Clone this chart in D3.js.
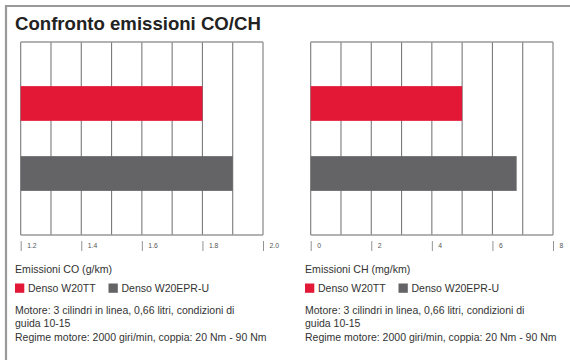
<!DOCTYPE html>
<html><head><meta charset="utf-8">
<script src="https://cdn.jsdelivr.net/npm/d3@7"></script>
<style>
html,body{margin:0;padding:0;background:#fff;}
svg{display:block;font-family:"Liberation Sans",Arial,Helvetica,sans-serif;}
</style></head>
<body>
<svg id="c" width="570" height="360"></svg>
<script>
const title = "Confronto emissioni CO/CH";
const series = ["Denso W20TT", "Denso W20EPR-U"];
const colors = ["#e31837", "#646466"];
const coValues = [1.8, 1.9];
const chValues = [5.0, 6.8];
const coTicks = [1.2, 1.4, 1.6, 1.8, 2.0];
const coTickLabels = ["1.2", "1.4", "1.6", "1.8", "2.0"];
const coGrid = [1.2, 1.3, 1.4, 1.5, 1.6, 1.7, 1.8, 1.9, 2.0];
const chTicks = [0, 2, 4, 6, 8];
const chTickLabels = ["0", "2", "4", "6", "8"];
const chGrid = [0, 1, 2, 3, 4, 5, 6, 7, 8];
const coTitle = "Emissioni CO (g/km)";
const chTitle = "Emissioni CH (mg/km)";
const notes = ["Motore: 3 cilindri in linea, 0,66 litri, condizioni di", "guida 10-15", "Regime motore: 2000 giri/min, coppia: 20 Nm - 90 Nm"];

const svg = d3.select("#c");
// outer frame (top and left)
svg.append("line").attr("x1",5).attr("x2",570).attr("y1",6).attr("y2",6).attr("stroke","#999").attr("stroke-width",2.2);
svg.append("line").attr("x1",6).attr("x2",6).attr("y1",5).attr("y2",360).attr("stroke","#999").attr("stroke-width",2.2);
svg.append("text").attr("x",15).attr("y",30).attr("font-size",18.6).attr("font-weight","bold").attr("fill","#222").text(title);

function panel(x0, values, domain, grid, ticks, tickLabels, axisTitle) {
  const g = svg.append("g");
  const x = d3.scaleLinear().domain(domain).range([x0 + 20.7, x0 + 263]);
  const y = d3.scaleBand().domain(series).range([42, 235]).paddingInner(0.504).paddingOuter(0.63);
  // gridlines
  g.selectAll("line.grid").data(grid).join("line")
    .attr("x1", d => x(d)).attr("x2", d => x(d)).attr("y1", 42).attr("y2", 235)
    .attr("stroke", "#7a7a7a").attr("stroke-width", 1.1);
  // top and bottom frame
  g.append("line").attr("x1", x(domain[0])).attr("x2", x(domain[1])).attr("y1", 42).attr("y2", 42).attr("stroke", "#999").attr("stroke-width", 1.4);
  g.append("line").attr("x1", x(domain[0])).attr("x2", x(domain[1])).attr("y1", 235).attr("y2", 235).attr("stroke", "#999").attr("stroke-width", 1.4);
  // bars
  g.selectAll("rect.bar").data(values).join("rect")
    .attr("x", x(domain[0])).attr("y", (d, i) => y(series[i]))
    .attr("width", d => x(d) - x(domain[0])).attr("height", y.bandwidth())
    .attr("fill", (d, i) => colors[i]);
  // ticks
  const ax = g.append("g").attr("transform", "translate(0,241)")
    .call(d3.axisBottom(x).tickValues(ticks).tickSize(10).tickFormat((d, i) => tickLabels[i]));
  ax.select(".domain").remove();
  ax.selectAll(".tick line").attr("stroke", "#888").attr("stroke-width", 0.9);
  ax.selectAll(".tick text").attr("y", 5).attr("x", 6).attr("dy", "0.32em").attr("text-anchor", "start")
    .attr("font-size", 6.8).attr("fill", "#555").attr("font-family", "Liberation Sans, Arial, sans-serif");
  // axis title
  g.append("text").attr("x", x0 + 15).attr("y", 273).attr("font-size", 10.6).attr("fill", "#333").text(axisTitle);
  // legend
  const lx = [x0 + 15, x0 + 108.5];
  series.forEach((s, i) => {
    g.append("rect").attr("x", lx[i]).attr("y", 283.5).attr("width", 9.3).attr("height", 9.3).attr("fill", colors[i]);
    g.append("text").attr("x", lx[i] + 13).attr("y", 292).attr("font-size", 10.5).attr("fill", "#333").text(s);
  });
  notes.forEach((t, i) => {
    g.append("text").attr("x", x0 + 15).attr("y", 314 + i * 13.3).attr("font-size", 10.5).attr("fill", "#333").text(t);
  });
}
panel(0, coValues, [1.2, 2.0], coGrid, coTicks, coTickLabels, coTitle);
panel(290, chValues, [0, 8], chGrid, chTicks, chTickLabels, chTitle);
</script>
</body></html>
